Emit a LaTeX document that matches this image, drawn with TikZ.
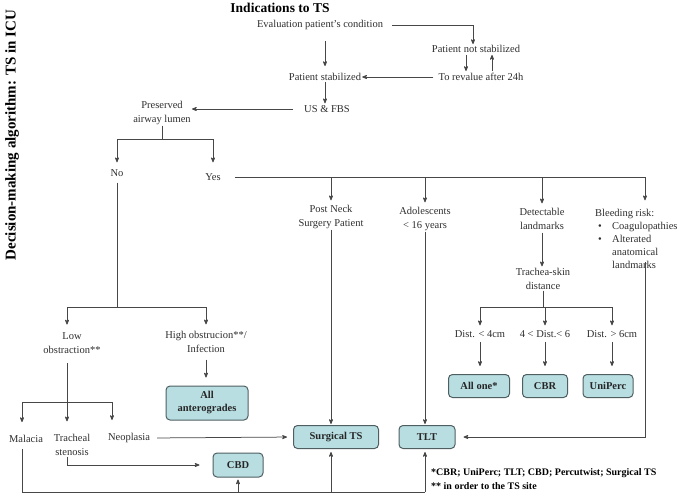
\documentclass[tikz,border=0pt]{standalone}
\usepackage{fontspec}
\setmainfont{Liberation Serif}
\usetikzlibrary{arrows,positioning,calc}

\definecolor{boxFill}{HTML}{B8DEE2}
\definecolor{boxLine}{HTML}{4F5F61}
\definecolor{lineGray}{HTML}{474747}
\definecolor{textGray}{HTML}{2E2E2E}

\newcommand{\bleedItem}[1]{\makebox[17pt][l]{\hspace{3pt}\textbullet}#1}
\newcommand{\bleedMore}[1]{\makebox[17pt]{}#1}

\begin{document}
\begin{tikzpicture}[x=1pt, y=-1pt,
		every node/.style={align=center, text=textGray, inner sep=1pt,
				font=\fontsize{10.5}{13.5}\selectfont},
		resultBox/.style={
				draw=boxLine, fill=boxFill, rounded corners=4pt, line width=1pt,
				minimum height=23pt, text=black!85,
				font=\bfseries\fontsize{10.5}{13}\selectfont
			},
		flowline/.style={draw=lineGray, line width=0.75pt},
		flowarrow/.style={flowline, -stealth'}
	]
	\useasboundingbox (0,0) rectangle (685,496);

	% Title
	\node[rotate=90, text=black, font=\bfseries\fontsize{15}{18}\selectfont] (title) at (12,135) {Decision-making algorithm: TS in ICU};

	% Top part
	\node[text=black, font=\bfseries\fontsize{13.5}{16}\selectfont] (ind) at (280,8) {Indications to TS};
	\node (eval) at (320,25) {Evaluation patient's condition};
	\node (notStab) at (476,49) {Patient not stabilized};
	\node (stab) at (325,77) {Patient stabilized};
	\node (reval) at (481,77) {To revalue after 24h};
	\node (usFbs) at (327,109) {US \& FBS};
	\node (airway) at (162,113) {Preserved\\airway lumen};
	\node (no) at (117,173) {No};
	\node (yes) at (213,177) {Yes};

	% Yes branch
	\node (postNeck) at (331,217) {Post Neck\\Surgery Patient};
	\node (adol) at (425,219) {Adolescents\\< 16 years};
	\node (detect) at (542,219) {Detectable\\landmarks};
	\node[anchor=north west, align=left, font=\fontsize{10.5}{13}\selectfont] (bleed) at (594,208)
	{Bleeding risk:\\ \bleedItem{Coagulopathies}\\ \bleedItem{Alterated}\\ \bleedMore{anatomical}\\ \bleedMore{landmarks}};
	\node (trachea) at (543,279) {Trachea-skin\\distance};
	\node (dist1) at (480,334) {Dist. < 4cm};
	\node (dist2) at (545,334) {4 < Dist.< 6};
	\node (dist3) at (612,334) {Dist. > 6cm};
	\node[resultBox, minimum width=61pt] (allOne) at (479,386) {All one*};
	\node[resultBox, minimum width=45pt] (cbr) at (545,386) {CBR};
	\node[resultBox, minimum width=50pt] (uniPerc) at (608,386) {UniPerc};

	% No branch
	\node (low) at (72,343) {Low\\obstraction**};
	\node (high) at (206,342) {High obstrucion**/\\Infection};
	\node[resultBox, minimum width=82pt, minimum height=34pt] (allAnt) at (207,403) {All\\anterogrades};
	\node (malacia) at (26,439) {Malacia};
	\node (tracheal) at (72,445) {Tracheal\\stenosis};
	\node (neoplasia) at (129,438) {Neoplasia};
	\node[resultBox, minimum width=85pt] (surgTs) at (336,437) {Surgical TS};
	\node[resultBox, minimum width=56pt] (tlt) at (427,437) {TLT};
	\node[resultBox, minimum width=50pt, minimum height=24pt] (cbd) at (238,465) {CBD};

	% Footnote
	\node[anchor=north west, align=left, text=black, font=\bfseries\fontsize{10}{14}\selectfont] (foot) at (430,467)
	{*CBR; UniPerc; TLT; CBD; Percutwist; Surgical TS\\** in order to the TS site};

	% Junctions
	\coordinate (splitTop) at (162,139);
	\coordinate (yesEnd) at (645,177);
	\coordinate (splitDist) at (543,307);
	\coordinate (bleedDown) at (645,262);
	\coordinate (splitNo) at (117,307);
	\coordinate (splitLow) at (67,402);
	\coordinate (bottom) at (0,492);

	% Top connectors
	\draw[flowarrow] ([xshift=8pt]eval.east) -| ([xshift=-3pt]notStab.north);
	\draw[flowarrow, shorten <=10pt, shorten >=6pt] (stab.north |- eval.south) -- (stab.north);
	\draw[flowarrow, shorten <=1pt, shorten >=1pt] ([xshift=-10pt]notStab.south) -- ([xshift=-10pt]notStab.south |- reval.north);
	\draw[flowarrow, shorten <=1pt, shorten >=1pt] ([xshift=16pt]notStab.south |- reval.north) -- ([xshift=16pt]notStab.south);
	\draw[flowarrow] ([xshift=-4pt]reval.west) -- (stab.east);
	\draw[flowarrow, shorten >=1pt] (stab.south) -- (stab.south |- usFbs.north);
	\draw[flowarrow, shorten <=10pt] (usFbs.west) -- (airway.east |- usFbs.west);
	\draw[flowline] (airway.south) -- (splitTop);
	\draw[flowarrow, shorten >=6pt] (splitTop) -| (no.north);
	\draw[flowarrow, shorten >=10pt] (splitTop) -| (yes.north);

	% Yes connectors
	\draw[flowline, shorten <=13pt] (yes.east) -- (yesEnd);
	\foreach \n in {postNeck, adol, detect}
	\draw[flowarrow, shorten >=4pt] (yesEnd -| \n.north) -- (\n.north);
	\draw[flowarrow, shorten >=4pt] (yesEnd) -- (yesEnd |- postNeck.north);
	\draw[flowarrow, shorten >=1pt] (postNeck.south) -- (postNeck.south |- surgTs.north);
	\draw[flowarrow, shorten >=1pt] (adol.south) -- (adol.south |- tlt.north);
	\draw[flowarrow, shorten <=2pt, shorten >=1pt] (detect.south) -- (detect.south |- trachea.north);
	\draw[flowline] (trachea.south) -- (splitDist);
	\foreach \n in {dist1, dist2, dist3}
	\draw[flowarrow, shorten >=4pt] (splitDist) -| (\n.north);
	\draw[flowarrow, shorten <=3pt, shorten >=8pt] (dist1.south) -- (dist1.south |- allOne.north);
	\draw[flowarrow, shorten <=3pt, shorten >=8pt] (dist2.south) -- (dist2.south |- cbr.north);
	\draw[flowarrow, shorten <=3pt, shorten >=8pt] (dist3.south) -- (dist3.south |- uniPerc.north);
	\draw[flowarrow, shorten >=8pt] (bleedDown) |- (tlt.east);

	% No connectors
	\draw[flowline, shorten <=5pt] (no.south) -- (splitNo);
	\draw[flowarrow, shorten >=7pt] (splitNo) -| ([xshift=-5pt]low.north);
	\draw[flowarrow, shorten >=6pt] (splitNo) -| (high.north);
	\draw[flowarrow, shorten <=6pt, shorten >=8pt] (high.south) -- (high.south |- allAnt.north);
	\draw[flowline, shorten <=9pt] ([xshift=-5pt]low.south) -- (splitLow);
	\draw[flowarrow, shorten >=12pt] (splitLow) -| ([xshift=-4pt]malacia.north);
	\draw[flowarrow, shorten >=12pt] (splitLow) -- ([xshift=-5pt]tracheal.north);
	\draw[flowarrow, shorten >=12pt] (splitLow) -| ([xshift=-17pt]neoplasia.north);
	\draw[flowarrow, shorten <=6pt, shorten >=6pt] (neoplasia.east) -- (surgTs.west);
	\draw[flowarrow, shorten >=13pt] ([xshift=-5pt]tracheal.south) |- (cbd.west);
	\draw[flowline, shorten <=5pt] ([xshift=-4pt]malacia.south) |- (adol.south |- bottom);
	\draw[flowarrow, shorten >=2pt] (cbd.south |- bottom) -- (cbd.south);
	\draw[flowarrow, shorten >=3pt] (postNeck.south |- bottom) -- (postNeck.south |- surgTs.south);
	\draw[flowarrow, shorten >=3pt] (adol.south |- bottom) -- (adol.south |- tlt.south);
\end{tikzpicture}
\end{document}
